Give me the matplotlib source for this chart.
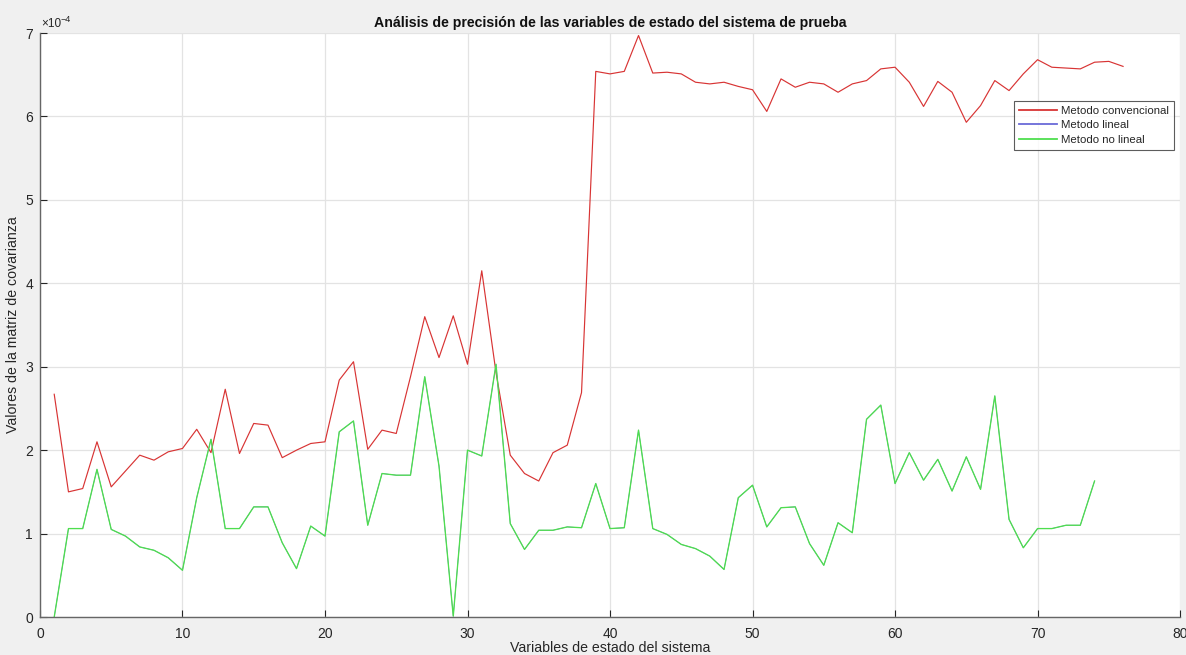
import numpy as np
import matplotlib
matplotlib.use("Agg")
import matplotlib.pyplot as plt
from matplotlib.ticker import FuncFormatter

plt.rcParams['font.family'] = ['Liberation Sans', 'DejaVu Sans']

# Covariance-matrix diagonal values (units of 1e-4) per state variable
variables_conv = list(range(1, 77))
metodo_convencional = [
    2.67, 1.50, 1.54, 2.10, 1.56, 1.75, 1.94, 1.88, 1.98, 2.02,
    2.25, 1.97, 2.73, 1.96, 2.32, 2.30, 1.91, 2.00, 2.08, 2.10,
    2.84, 3.06, 2.01, 2.24, 2.20, 2.88, 3.60, 3.11, 3.61, 3.03,
    4.15, 2.93, 1.94, 1.72, 1.63, 1.97, 2.06, 2.69, 6.54, 6.51,
    6.54, 6.97, 6.52, 6.53, 6.51, 6.41, 6.39, 6.41, 6.36, 6.32,
    6.06, 6.45, 6.35, 6.41, 6.39, 6.29, 6.39, 6.43, 6.57, 6.59,
    6.41, 6.12, 6.42, 6.29, 5.93, 6.13, 6.43, 6.31, 6.51, 6.68,
    6.59, 6.58, 6.57, 6.65, 6.66, 6.60,
]

variables_est = list(range(1, 75))
metodo_no_lineal = [
    0.00, 1.06, 1.06, 1.77, 1.05, 0.97, 0.84, 0.80, 0.71, 0.56,
    1.43, 2.13, 1.06, 1.06, 1.32, 1.32, 0.89, 0.58, 1.09, 0.97,
    2.22, 2.35, 1.10, 1.72, 1.70, 1.70, 2.88, 1.81, 0.01, 2.00,
    1.93, 3.03, 1.12, 0.81, 1.04, 1.04, 1.08, 1.07, 1.60, 1.06,
    1.07, 2.24, 1.06, 0.99, 0.87, 0.82, 0.73, 0.57, 1.43, 1.58,
    1.08, 1.31, 1.32, 0.88, 0.62, 1.13, 1.01, 2.37, 2.54, 1.60,
    1.97, 1.64, 1.89, 1.51, 1.92, 1.53, 2.65, 1.17, 0.83, 1.06,
    1.06, 1.10, 1.10, 1.63,
]
# The linear estimator yields the same values as the non-linear one
metodo_lineal = metodo_no_lineal

escala = 1e-4
xticks = [0, 10, 20, 30, 40, 50, 60, 70, 80]
yticks = [0, 1, 2, 3, 4, 5, 6, 7]

fig = plt.figure(figsize=(11.86, 6.55), dpi=100, facecolor='#f0f0f0')
ax = fig.add_axes([0.0337, 0.058, 0.9613, 0.8916])
ax.set_facecolor('white')

ax.plot(variables_conv, np.array(metodo_convencional) * escala,
        color='#d83434', lw=0.85, label='Metodo convencional')
ax.plot(variables_est, np.array(metodo_lineal) * escala,
        color='#6a6ad8', lw=0.5, label='Metodo lineal')
ax.plot(variables_est, np.array(metodo_no_lineal) * escala,
        color='#4ede4e', lw=0.95, label='Metodo no lineal')

ax.set_xlim(0, 80)
ax.set_ylim(0, 7 * escala)
ax.set_xticks(xticks)
ax.set_yticks([v * escala for v in yticks])
ax.yaxis.set_major_formatter(FuncFormatter(lambda v, _: f"{v / escala:g}"))

ax.grid(True, color='#e3e3e3', lw=0.9)
ax.set_axisbelow(True)
for side in ('top', 'right'):
    ax.spines[side].set_visible(False)
for side in ('left', 'bottom'):
    ax.spines[side].set_color('#666666')
    ax.spines[side].set_linewidth(1.0)
ax.tick_params(direction='in', length=5, width=0.8, colors='#262626', labelsize=10)
ax.tick_params(axis='x', pad=7)
ax.tick_params(axis='y', pad=5)

# Exponent label for the y axis
ax.annotate('×10', xy=(0, 1), xycoords='axes fraction', xytext=(1, 2),
            textcoords='offset points', ha='left', va='bottom', fontsize=8.5,
            color='#262626')
ax.annotate('\u22124', xy=(0, 1), xycoords='axes fraction', xytext=(14.8, 6.5),
            textcoords='offset points', ha='left', va='bottom', fontsize=6.5,
            color='#262626')

ax.set_title('Análisis de precisión de las variables de estado del sistema de prueba',
             fontsize=10.2, fontweight='bold', color='#111111', pad=4)
ax.set_xlabel('Variables de estado del sistema', fontsize=10.2, color='#262626', labelpad=0)
ax.set_ylabel('Valores de la matriz de covarianza', fontsize=10.2, color='#262626', labelpad=4)

leg = ax.legend(loc='upper left', bbox_to_anchor=(0.854, 0.884), fontsize=8.2,
                frameon=True, fancybox=False, handlelength=3.4, handletextpad=0.3,
                borderpad=0.45, labelspacing=0.4, borderaxespad=0)
leg.get_frame().set_edgecolor('#333333')
leg.get_frame().set_linewidth(0.8)
for txt in leg.get_texts():
    txt.set_color('#262626')
for line in leg.get_lines():
    line.set_linewidth(1.3)

fig.savefig('out.png', dpi=100, facecolor=fig.get_facecolor())
